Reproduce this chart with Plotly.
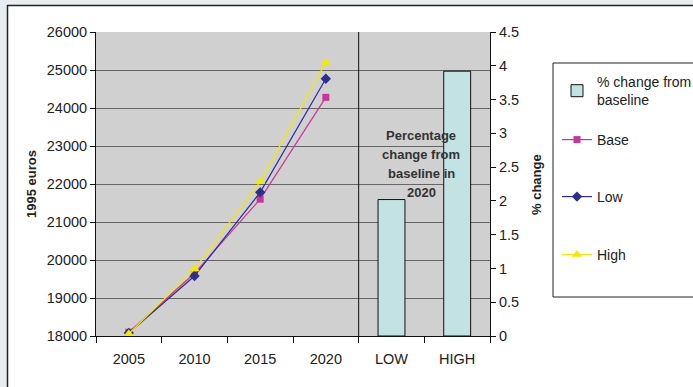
import plotly.graph_objects as go

years = ["2005", "2010", "2015", "2020"]
scenarios = ["LOW", "HIGH"]
categories = years + scenarios

base = [18100, 19650, 21600, 24280]
low = [18080, 19580, 21780, 24770]
high = [18060, 19760, 22060, 25200]
pct_change = [2.02, 3.92]

left_ticks = list(range(18000, 26001, 1000))
right_ticks = [0, 0.5, 1, 1.5, 2, 2.5, 3, 3.5, 4, 4.5]

note_lines = ["Percentage", "change from", "baseline in", "2020"]

W, H = 693, 387
L, R, T, B = 96, 490, 32, 336


def px(x):
    return (x - L) / (R - L)


def py(y):
    return (B - y) / (B - T)


FONT = "Liberation Sans, Arial, sans-serif"
TXT = "#222222"
TS = 14.5

fig = go.Figure()
fig.add_trace(go.Bar(
    x=scenarios, y=pct_change, yaxis="y2", name="% change from<br>baseline",
    marker=dict(color="#c2e3e1", line=dict(color="#111111", width=1)),
    width=0.41, legend="legend",
))
fig.add_trace(go.Scatter(
    x=years, y=base, name="Base", mode="lines+markers",
    line=dict(color="#c8359b", width=1.2),
    marker=dict(symbol="square", size=7, color="#c8359b"), legend="legend2",
))
fig.add_trace(go.Scatter(
    x=years, y=low, name="Low", mode="lines+markers",
    line=dict(color="#2e2e8f", width=1.2),
    marker=dict(symbol="diamond", size=8, color="#2e2e8f"), legend="legend3",
))
fig.add_trace(go.Scatter(
    x=years, y=high, name="High", mode="lines+markers",
    line=dict(color="#f2ea00", width=1.2),
    marker=dict(symbol="triangle-up", size=9, color="#f2ea00"), legend="legend4",
))

shapes = [
    dict(type="rect", xref="paper", yref="paper", x0=px(-5), x1=px(7), y0=py(400), y1=py(-5),
         fillcolor="#e9edf1", line=dict(width=0), layer="above"),
    dict(type="rect", xref="paper", yref="paper", x0=px(-5), x1=px(700), y0=py(5), y1=py(-5),
         fillcolor="#e9edf1", line=dict(width=0), layer="above"),
    dict(type="line", xref="paper", yref="paper", x0=px(7.5), x1=px(7.5), y0=py(400), y1=py(5),
         line=dict(color="#222222", width=1.5)),
    dict(type="line", xref="paper", yref="paper", x0=px(7), x1=px(700), y0=py(5.5), y1=py(5.5),
         line=dict(color="#222222", width=1.5)),
    dict(type="line", xref="x", yref="paper", x0=len(years) - 0.5, x1=len(years) - 0.5, y0=0, y1=1,
         line=dict(color="#111111", width=1)),
    dict(type="rect", xref="paper", yref="paper", x0=px(553), x1=px(700), y0=py(297), y1=py(63),
         line=dict(color="#222222", width=1), fillcolor="rgba(0,0,0,0)"),
]

annotations = []
for i, line in enumerate(note_lines):
    annotations.append(dict(
        text="<b>%s</b>" % line, xref="paper", yref="paper",
        x=px(421), y=py(135 + i * 19), xanchor="center", yanchor="middle", showarrow=False,
        font=dict(family=FONT, size=13, color="#333333")))
annotations += [
    dict(text="<b>1995 euros</b>", xref="paper", yref="paper", x=px(31), y=py(184),
         xanchor="center", yanchor="middle",
         showarrow=False, textangle=-90, font=dict(family=FONT, size=13, color=TXT)),
    dict(text="<b>% change</b>", xref="paper", yref="paper", x=px(536), y=py(185),
         xanchor="center", yanchor="middle",
         showarrow=False, textangle=-90, font=dict(family=FONT, size=13, color=TXT)),
]


def leg(yc):
    return dict(x=px(557), y=py(yc), xanchor="left", yanchor="middle",
                bgcolor="rgba(0,0,0,0)", borderwidth=0,
                font=dict(family=FONT, size=14, color=TXT), itemwidth=30)


fig.update_layout(
    width=W, height=H,
    margin=dict(l=L, r=W - R, t=T, b=H - B, autoexpand=False),
    paper_bgcolor="white", plot_bgcolor="#d0d0d0",
    font=dict(family=FONT, size=TS, color=TXT),
    showlegend=True,
    legend=leg(91), legend2=leg(140), legend3=leg(197), legend4=leg(255),
    xaxis=dict(type="category", categoryorder="array", categoryarray=categories,
               range=[-0.5, len(categories) - 0.5], showgrid=False,
               showline=True, linecolor="#111111", linewidth=1,
               ticks="outside", tickson="boundaries", ticklen=6, tickcolor="#111111",
               ticklabelstandoff=10,
               tickfont=dict(size=TS, color=TXT)),
    yaxis=dict(range=[18000, 26000], tickvals=left_ticks, tickformat="d", showgrid=True,
               gridcolor="#666666", gridwidth=1.3, showline=True, linecolor="#111111",
               ticks="outside", ticklen=5, tickcolor="#111111", zeroline=False,
               tickfont=dict(size=TS, color=TXT)),
    yaxis2=dict(range=[0, 4.5], tickvals=right_ticks, overlaying="y", side="right",
                showgrid=False, showline=True, linecolor="#111111", zeroline=False,
                ticks="outside", ticklen=5, tickcolor="#111111",
                tickfont=dict(size=TS, color=TXT)),
    shapes=shapes, annotations=annotations,
)

fig.write_html("out.html", config={"displayModeBar": False},
               post_script="document.body.style.margin='0';document.body.style.overflow='hidden';")
